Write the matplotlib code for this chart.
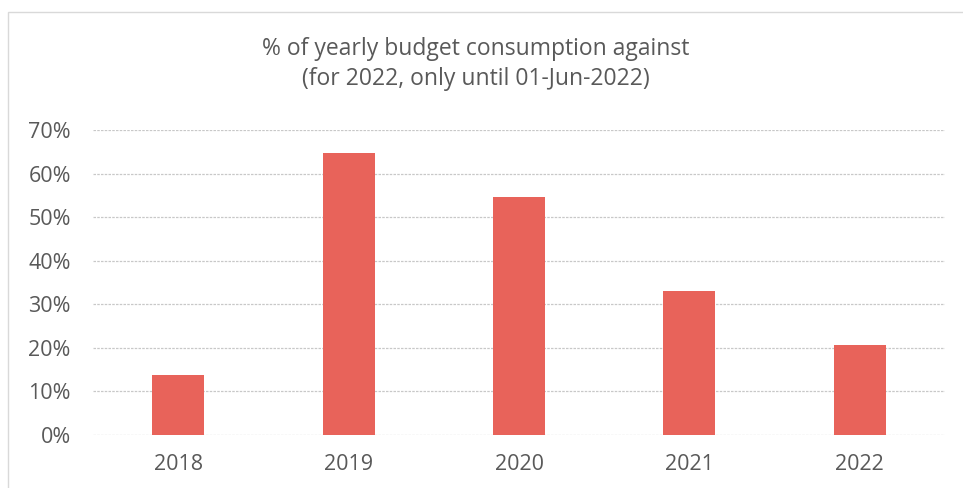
import matplotlib.pyplot as plt
from matplotlib.patches import Rectangle
from matplotlib.ticker import PercentFormatter

years = ['2018', '2019', '2020', '2021', '2022']
consumption = [13.8, 64.7, 54.6, 33.0, 20.7]

plt.rcParams['font.family'] = ['Open Sans', 'DejaVu Sans']

fig = plt.figure(figsize=(9.63, 4.88), dpi=100)
ax = fig.add_axes([0.0966, 0.1086, 0.8847, 0.625])

# chart frame
fig.patches.append(Rectangle((8 / 963, -0.1), 1.2, 1.1 - 12 / 488,
                             transform=fig.transFigure, fill=False,
                             edgecolor='#d9d9d9', linewidth=1.0))

ax.bar(years, consumption, width=0.305, color='#e8635a', zorder=3)

ax.set_ylim(0, 70)
ax.set_xlim(-0.5, 4.5)
ax.set_yticks(range(0, 71, 10))
ax.yaxis.set_major_formatter(PercentFormatter(decimals=0))
ax.grid(axis='y', color='#c8c8c8', linestyle=(0, (2, 1)), linewidth=0.9, zorder=0)
for s in ax.spines.values():
    s.set_visible(False)
ax.tick_params(length=0, labelsize=15.5, colors='#595959')
ax.tick_params(axis='y', pad=16)
ax.tick_params(axis='x', pad=14)

fig.text(0.494, 0.869, '% of yearly budget consumption against\n(for 2022, only until 01-Jun-2022)',
         ha='center', va='center', fontsize=16.5, color='#595959', linespacing=1.35)

fig.savefig('out.png', dpi=100)
